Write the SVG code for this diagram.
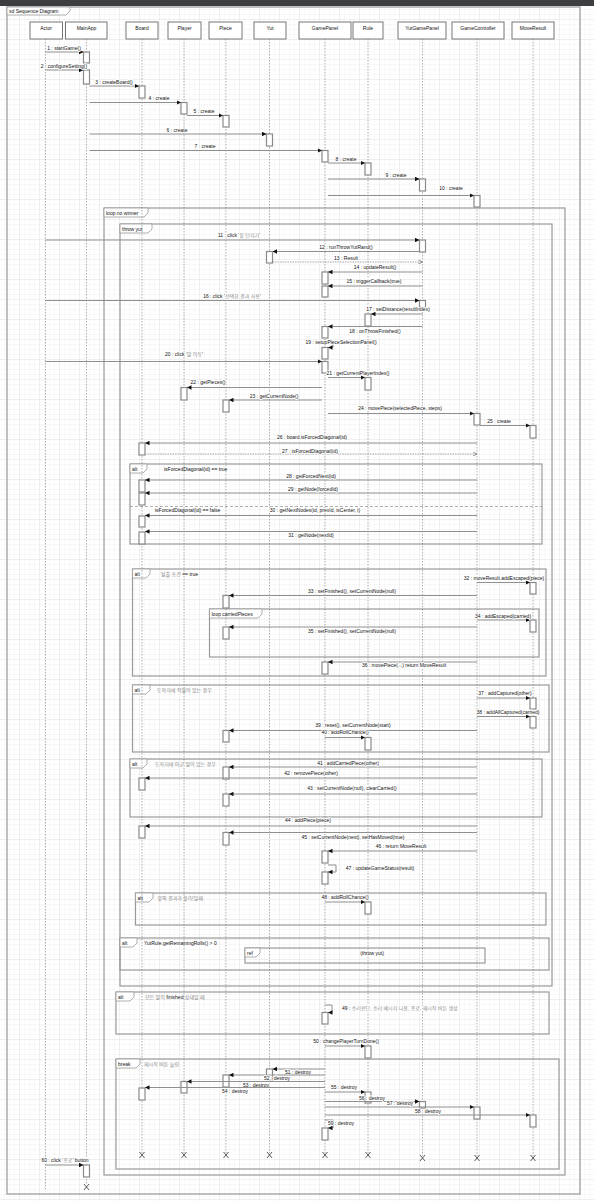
<svg xmlns="http://www.w3.org/2000/svg" width="594" height="1201" viewBox="0 0 594 1201">
<defs>
<pattern id="gm" width="5" height="5" patternUnits="userSpaceOnUse"><path d="M5,0V5M0,5H5" stroke="#e9e9e9" stroke-width="0.5" fill="none"/></pattern>
<pattern id="gM" width="20" height="20" patternUnits="userSpaceOnUse"><rect width="20" height="20" fill="url(#gm)"/><path d="M20,0V20M0,20H20" stroke="#dcdcdc" stroke-width="0.6" fill="none"/></pattern>
<marker id="ah" viewBox="0 0 10 10" refX="10" refY="5" markerWidth="4.5" markerHeight="4.5" markerUnits="userSpaceOnUse" orient="auto"><path d="M0,0L10,5L0,10z" fill="#111"/></marker>
<marker id="ao" viewBox="0 0 10 10" refX="10" refY="5" markerWidth="4.5" markerHeight="4.5" markerUnits="userSpaceOnUse" orient="auto"><path d="M0,0L10,5L0,10" fill="none" stroke="#666" stroke-width="1.5"/></marker>
<style>
text{font-family:"Liberation Sans","Noto Sans CJK KR",sans-serif;font-size:5px;fill:#111}
.hd{fill:#fff;stroke:#777;stroke-width:1}
.ll{stroke:#777;stroke-width:0.6;stroke-dasharray:1.5 1.5;fill:none}
.act{fill:#fff;stroke:#8a8a8a;stroke-width:1.2}
.m{stroke:#8f8f8f;stroke-width:1;fill:none;marker-end:url(#ah)}
.r{stroke:#8f8f8f;stroke-width:0.8;stroke-dasharray:1.5 1;fill:none;marker-end:url(#ao)}
.fr{fill:none;stroke:#9a9a9a;stroke-width:1.2}
.tab{fill:#fff;stroke:#9a9a9a;stroke-width:0.8}
.lb{text-anchor:middle;paint-order:stroke;stroke:#fff;stroke-width:1.6;stroke-linejoin:round}
.ls{paint-order:stroke;stroke:#fff;stroke-width:1.6;stroke-linejoin:round}
.k{fill:#888}
.x{stroke:#333;stroke-width:0.8}
.c{text-anchor:middle}
</style>
</defs>
<rect width="594" height="1201" fill="#fff"/>
<rect width="594" height="1201" fill="url(#gM)"/>
<rect x="0" y="0" width="594" height="6" fill="#3b3f42"/>

<g id="frame">
<rect x="7" y="7" width="573" height="1187" fill="none" stroke="#aaa" stroke-width="1.5"/>
<path d="M7,7H70V11L66,15H7z" class="tab"/>
<text x="9" y="13">sd Sequence Diagram</text>
</g>

<g id="frames">
<rect class="fr" x="104" y="208" width="461" height="967"/>
<path class="tab" d="M104,208H148V213L144,217H104z"/><text x="106" y="214.5">loop no winner</text>
<rect class="fr" x="120" y="224" width="432" height="762"/>
<path class="tab" d="M120,224H152V229L148,233H120z"/><text x="122" y="230.5">throw yut</text>

<rect class="fr" x="130" y="464" width="412" height="80"/>
<path class="tab" d="M130,464H147V469L143,473H130z"/><text x="132" y="470.5">alt</text>
<text x="164" y="470.5">isForcedDiagonal(id) == true</text>
<line x1="130" y1="506.5" x2="542" y2="506.5" stroke="#9a9a9a" stroke-width="0.8" stroke-dasharray="3 2"/>
<text x="155" y="512">isForcedDiagonal(id) == false</text>

<rect class="fr" x="132.5" y="569" width="413.5" height="107"/>
<path class="tab" d="M132.5,569H150V574L146,578H132.5z"/><text x="134.5" y="575.5">alt</text>
<text x="161" y="575.5"><tspan class="k">탈출 조건</tspan> == true</text>

<rect class="fr" x="209.5" y="609" width="329.5" height="48"/>
<path class="tab" d="M209.5,609H262V614L258,618H209.5z"/><text x="211.5" y="615.5">loop carriedPieces</text>

<rect class="fr" x="132.5" y="685" width="416.5" height="67"/>
<path class="tab" d="M132.5,685H150V690L146,694H132.5z"/><text x="134.5" y="691.5">alt</text>
<text x="157" y="691.5" class="k">도착지에 적말이 있는 경우</text>

<rect class="fr" x="130" y="759" width="412" height="58"/>
<path class="tab" d="M130,759H147V764L143,768H130z"/><text x="132" y="765.5">alt</text>
<text x="155" y="765.5" class="k">도착지에 아군 말이 있는 경우</text>

<rect class="fr" x="135.5" y="893" width="410.5" height="32"/>
<path class="tab" d="M135.5,893H153V898L149,902H135.5z"/><text x="137.5" y="899.5">alt</text>
<text x="157.5" y="899.5" class="k">윷의 결과가 윷/모일때</text>

<rect class="fr" x="120" y="938" width="429" height="32"/>
<path class="tab" d="M120,938H137V943L133,947H120z"/><text x="122" y="944.5">alt</text>
<text x="144" y="944.5">YutRule.getRemainingRolls() &gt; 0</text>

<rect class="fr" x="245" y="948" width="240" height="15" fill="#fff"/>
<path class="tab" d="M245,948H260V953L256,957H245z"/><text x="247" y="954.5">ref</text>
<text x="372" y="954.5" class="c">(throw yut)</text>

<rect class="fr" x="116" y="992" width="433" height="42"/>
<path class="tab" d="M116,992H134V997L130,1001H116z"/><text x="118" y="998.5">alt</text>
<text x="145" y="998.5"><tspan class="k">모든 말이</tspan> finished <tspan class="k">상태일 때</tspan></text>

<rect class="fr" x="116" y="1059" width="443" height="110"/>
<path class="tab" d="M116,1059H140V1064L136,1068H116z"/><text x="118" y="1065.5">break</text>
<text x="144" y="1065.5" class="k">재시작 버튼 눌림</text>
</g>

<g id="node-actor">
<line class="ll" x1="45.5" y1="39" x2="45.5" y2="1189"/>
<rect class="hd" x="30" y="22" width="32.5" height="17"/><text x="46" y="30" class="c">Actor</text>
</g>
<g id="node-mainapp">
<line class="ll" x1="86.5" y1="39" x2="86.5" y2="1185"/>
<rect class="hd" x="65.5" y="22" width="41.5" height="17"/><text x="86.5" y="30" class="c">MainApp</text>
<rect class="act" x="83.5" y="52" width="6" height="11"/>
<rect class="act" x="83.5" y="70" width="6" height="14"/>
<rect class="act" x="83.5" y="1165" width="6" height="12"/>
<path class="x" d="M84,1184L89,1190M89,1184L84,1190"/>
</g>
<g id="node-board">
<line class="ll" x1="142" y1="39" x2="142" y2="1153"/>
<rect class="hd" x="126" y="22" width="32" height="17"/><text x="142" y="30" class="c">Board</text>
<rect class="act" x="139" y="86" width="6" height="12"/>
<rect class="act" x="139" y="443" width="6" height="12"/>
<rect class="act" x="139" y="480" width="6" height="12"/>
<rect class="act" x="139" y="493" width="6" height="12"/>
<rect class="act" x="139" y="516" width="6" height="11"/>
<rect class="act" x="139" y="532" width="6" height="12"/>
<rect class="act" x="139" y="778" width="6" height="12"/>
<rect class="act" x="139" y="826" width="6" height="12"/>
<rect class="act" x="139" y="1088" width="6" height="12"/>
<path class="x" d="M139.5,1152L144.5,1158M144.5,1152L139.5,1158"/>
</g>
<g id="node-player">
<line class="ll" x1="184" y1="39" x2="184" y2="1153"/>
<rect class="hd" x="168" y="22" width="33" height="17"/><text x="184.5" y="30" class="c">Player</text>
<rect class="act" x="181" y="102.5" width="6" height="11.5"/>
<rect class="act" x="181" y="387.5" width="6" height="12.5"/>
<rect class="act" x="181" y="1081.5" width="6" height="11.5"/>
<path class="x" d="M181.5,1152L186.5,1158M186.5,1152L181.5,1158"/>
</g>
<g id="node-piece">
<line class="ll" x1="226" y1="39" x2="226" y2="1153"/>
<rect class="hd" x="209" y="22" width="33" height="17"/><text x="225.5" y="30" class="c">Piece</text>
<rect class="act" x="223" y="115.5" width="6" height="11.5"/>
<rect class="act" x="223" y="400" width="6" height="12"/>
<rect class="act" x="223" y="595.5" width="6" height="12.5"/>
<rect class="act" x="223" y="627" width="6" height="12"/>
<rect class="act" x="223" y="730.5" width="6" height="11.5"/>
<rect class="act" x="223" y="767" width="6" height="12"/>
<rect class="act" x="223" y="794" width="6" height="12"/>
<rect class="act" x="223" y="832.5" width="6" height="12.5"/>
<rect class="act" x="223" y="1075" width="6" height="12"/>
<path class="x" d="M223.5,1152L228.5,1158M228.5,1152L223.5,1158"/>
</g>
<g id="node-yut">
<line class="ll" x1="269.5" y1="39" x2="269.5" y2="1153"/>
<rect class="hd" x="254" y="22" width="32" height="17"/><text x="270" y="30" class="c">Yut</text>
<rect class="act" x="266.5" y="134" width="6" height="12"/>
<rect class="act" x="266.5" y="251.5" width="6" height="11.5"/>
<rect class="act" x="266.5" y="1069" width="6" height="11"/>
<path class="x" d="M267,1152L272,1158M272,1152L267,1158"/>
</g>
<g id="node-gamepanel">
<line class="ll" x1="325" y1="39" x2="325" y2="1153"/>
<rect class="hd" x="299" y="22" width="52" height="17"/><text x="325" y="30" class="c">GamePanel</text>
<rect class="act" x="322" y="150.5" width="6" height="11.5"/>
<rect class="act" x="322" y="272" width="6" height="12"/>
<rect class="act" x="322" y="286" width="6" height="11"/>
<rect class="act" x="322" y="326.5" width="6" height="11.5"/>
<rect class="act" x="322" y="347.5" width="6" height="11.5"/>
<rect class="act" x="322" y="361.5" width="6" height="11.5"/>
<rect class="act" x="322" y="662" width="6" height="12"/>
<rect class="act" x="322" y="851" width="6" height="12"/>
<rect class="act" x="322" y="872" width="6" height="12"/>
<rect class="act" x="322" y="1012.5" width="6" height="11.5"/>
<rect class="act" x="322" y="1128" width="6" height="12"/>
<path class="x" d="M322.5,1152L327.5,1158M327.5,1152L322.5,1158"/>
</g>
<g id="node-rule">
<line class="ll" x1="368" y1="39" x2="368" y2="1153"/>
<rect class="hd" x="353" y="22" width="30" height="17"/><text x="368" y="30" class="c">Rule</text>
<rect class="act" x="365" y="163" width="6" height="12"/>
<rect class="act" x="365" y="314" width="6" height="12"/>
<rect class="act" x="365" y="377.5" width="6" height="12.5"/>
<rect class="act" x="365" y="737.5" width="6" height="12.5"/>
<rect class="act" x="365" y="902" width="6" height="12"/>
<rect class="act" x="365" y="1046" width="6" height="12"/>
<rect class="act" x="365" y="1092" width="6" height="11"/>
<path class="x" d="M365.5,1152L370.5,1158M370.5,1152L365.5,1158"/>
</g>
<g id="node-yutgamepanel">
<line class="ll" x1="422.5" y1="39" x2="422.5" y2="1156"/>
<rect class="hd" x="398" y="22" width="48" height="17"/><text x="422" y="30" class="c">YutGamePanel</text>
<rect class="act" x="419.5" y="179" width="6" height="12"/>
<rect class="act" x="419.5" y="240" width="6" height="12"/>
<rect class="act" x="419.5" y="300.5" width="6" height="7"/>
<rect class="act" x="419.5" y="1101.5" width="6" height="6.5"/>
<path class="x" d="M420,1155L425,1161M425,1155L420,1161"/>
</g>
<g id="node-gamecontroller">
<line class="ll" x1="477" y1="39" x2="477" y2="1156"/>
<rect class="hd" x="452" y="22" width="52" height="17"/><text x="478" y="30" class="c">GameController</text>
<rect class="act" x="474" y="195.5" width="6" height="11.5"/>
<rect class="act" x="474" y="413.5" width="6" height="11.5"/>
<rect class="act" x="474" y="1107" width="6" height="12"/>
<path class="x" d="M474.5,1155L479.5,1161M479.5,1155L474.5,1161"/>
</g>
<g id="node-moveresult">
<line class="ll" x1="533" y1="39" x2="533" y2="1156"/>
<rect class="hd" x="512" y="22" width="42" height="17"/><text x="533" y="30" class="c">MoveResult</text>
<rect class="act" x="530" y="425.5" width="6" height="12.5"/>
<rect class="act" x="530" y="582.5" width="6" height="11.5"/>
<rect class="act" x="530" y="620" width="6" height="12"/>
<rect class="act" x="530" y="698" width="6" height="11"/>
<rect class="act" x="530" y="716.5" width="6" height="11.5"/>
<rect class="act" x="530" y="1115" width="6" height="12"/>
<path class="x" d="M530.5,1155L535.5,1161M535.5,1155L530.5,1161"/>
</g>

<g id="connectors">
<line class="m" x1="45.5" y1="52" x2="83.5" y2="52"/><text class="lb" x="64" y="49.5">1 : startGame()</text>
<line class="m" x1="45.5" y1="70" x2="83.5" y2="70"/><text class="lb" x="64" y="67.5">2 : configureSetting()</text>
<line class="m" x1="89.5" y1="86" x2="139" y2="86"/><text class="lb" x="114" y="83.5">3 : createBoard()</text>
<line class="m" x1="89.5" y1="102.5" x2="181" y2="102.5"/><text class="lb" x="159" y="100">4 : create</text>
<line class="m" x1="187" y1="115.5" x2="223" y2="115.5"/><text class="lb" x="204" y="113">5 : create</text>
<line class="m" x1="89.5" y1="134" x2="266.5" y2="134"/><text class="lb" x="177" y="131.5">6 : create</text>
<line class="m" x1="89.5" y1="150.5" x2="322" y2="150.5"/><text class="lb" x="205" y="148">7 : create</text>
<line class="m" x1="328" y1="163" x2="365" y2="163"/><text class="lb" x="346" y="160.5">8 : create</text>
<line class="m" x1="328" y1="179" x2="419.5" y2="179"/><text class="lb" x="396" y="176.5">9 : create</text>
<line class="m" x1="328" y1="195.5" x2="474" y2="195.5"/><text class="lb" x="451" y="190">10 : create</text>

<line class="m" x1="45.5" y1="240" x2="419.5" y2="240"/><text class="lb" x="239" y="237">11 : click '<tspan class="k">윷 던지기</tspan>'</text>
<line class="m" x1="419.5" y1="251.5" x2="272.5" y2="251.5"/><text class="lb" x="346" y="249">12 : runThrowYutRand()</text>
<line class="r" x1="272.5" y1="262" x2="422.5" y2="262"/><text class="lb" x="346" y="259.5">13 : Result</text>
<line class="m" x1="422.5" y1="272" x2="328" y2="272"/><text class="lb" x="375" y="269">14 : updateResult()</text>
<line class="m" x1="422.5" y1="286" x2="328" y2="286"/><text class="lb" x="374" y="282.5">15 : triggerCallback(true)</text>
<line class="m" x1="45.5" y1="300.5" x2="419.5" y2="300.5"/><text class="lb" x="232" y="298">16 : click '<tspan class="k">선택한 결과 사용</tspan>'</text>
<line class="m" x1="422.5" y1="314" x2="371" y2="314"/><text class="lb" x="398" y="311">17 : setDistance(resultIndex)</text>
<line class="m" x1="422.5" y1="326.5" x2="328" y2="326.5"/><text class="lb" x="375" y="332.5">18 : onThrowFinished()</text>
<path class="m" d="M328,341H333V347.5H328"/><text class="lb" x="341" y="344">19 : setupPieceSelectionPanel()</text>
<line class="m" x1="45.5" y1="361.5" x2="322" y2="361.5"/><text class="lb" x="184" y="356">20 : click '<tspan class="k">말 이동</tspan>'</text>
<line class="m" x1="328" y1="377.5" x2="365" y2="377.5"/><text class="lb" x="358" y="375">21 : getCurrentPlayerIndex()</text>
<line class="m" x1="322" y1="387.5" x2="187" y2="387.5"/><text class="lb" x="208" y="384">22 : getPieces()</text>
<line class="m" x1="322" y1="400" x2="229" y2="400"/><text class="lb" x="274" y="397.5">23 : getCurrentNode()</text>
<line class="m" x1="328" y1="413.5" x2="474" y2="413.5"/><text class="lb" x="400" y="410">24 : movePiece(selectedPiece, steps)</text>
<line class="m" x1="480" y1="425.5" x2="530" y2="425.5"/><text class="lb" x="499" y="422.5">25 : create</text>
<line class="m" x1="477" y1="443" x2="145" y2="443"/><text class="lb" x="312" y="439">26 : board.isForcedDiagonal(id)</text>
<line class="r" x1="145" y1="454" x2="477" y2="454"/><text class="lb" x="310" y="452.5">27 : isForcedDiagonal(id)</text>
<line class="m" x1="477" y1="480" x2="145" y2="480"/><text class="lb" x="311" y="477.5">28 : getForcedNext(id)</text>
<line class="m" x1="477" y1="493" x2="145" y2="493"/><text class="lb" x="313" y="490.5">29 : getNode(forcedId)</text>
<line class="m" x1="477" y1="515.5" x2="145" y2="515.5"/><text class="lb" x="315" y="511.5">30 : getNextNodes(id, prevId, isCenter, i)</text>
<line class="m" x1="477" y1="531.5" x2="145" y2="531.5"/><text class="lb" x="311" y="537">31 : getNode(nextId)</text>
<line class="m" x1="477" y1="582.5" x2="530" y2="582.5"/><text class="lb" x="504" y="579.5">32 : moveResult.addEscaped(piece)</text>
<line class="m" x1="477" y1="595.5" x2="229" y2="595.5"/><text class="lb" x="352" y="592.5">33 : setFinished(), setCurrentNode(null)</text>
<line class="m" x1="477" y1="620" x2="530" y2="620"/><text class="lb" x="503" y="617.5">34 : addEscaped(carried)</text>
<line class="m" x1="477" y1="627" x2="229" y2="627"/><text class="lb" x="352" y="632.5">35 : setFinished(), setCurrentNode(null)</text>
<line class="m" x1="477" y1="662" x2="328" y2="662"/><text class="lb" x="404" y="667">36 : movePiece(...) return MoveResult</text>
<line class="m" x1="477" y1="698" x2="530" y2="698"/><text class="lb" x="505" y="694.5">37 : addCaptured(other)</text>
<line class="m" x1="477" y1="716.5" x2="530" y2="716.5"/><text class="lb" x="508" y="713.5">38 : addAllCaptured(carried)</text>
<line class="m" x1="477" y1="730.5" x2="229" y2="730.5"/><text class="lb" x="353" y="727">39 : reset(), setCurrentNode(start)</text>
<line class="m" x1="325" y1="737.5" x2="365" y2="737.5"/><text class="lb" x="345" y="733.5">40 : addRollChance()</text>
<line class="m" x1="477" y1="767" x2="229" y2="767"/><text class="lb" x="348" y="764.5">41 : addCarriedPiece(other)</text>
<line class="m" x1="477" y1="778" x2="145" y2="778"/><text class="lb" x="311" y="775">42 : removePiece(other)</text>
<line class="m" x1="477" y1="794" x2="229" y2="794"/><text class="lb" x="352" y="790">43 : setCurrentNode(null), clearCarried()</text>
<line class="m" x1="477" y1="826" x2="145" y2="826"/><text class="lb" x="308" y="822">44 : addPiece(piece)</text>
<line class="m" x1="477" y1="832.5" x2="229" y2="832.5"/><text class="lb" x="353" y="838.5">45 : setCurrentNode(next), setHasMoved(true)</text>
<line class="m" x1="477" y1="851" x2="328" y2="851"/><text class="lb" x="401" y="848">46 : return MoveResult</text>
<path class="m" d="M328,865H336V872H328"/><text class="lb" x="380" y="869.5">47 : updateGameStatus(result)</text>
<line class="m" x1="325" y1="902" x2="365" y2="902"/><text class="lb" x="345" y="898.5">48 : addRollChance()</text>
<path class="m" d="M325,1005H332V1012.5H328"/><text class="ls" x="342" y="1010">49 : <tspan class="k">승리판단, 승리 메시지 나옴, 종료, 재시작 버튼 생성</tspan></text>
<line class="m" x1="325" y1="1046" x2="365" y2="1046"/><text class="lb" x="346" y="1042.5">50 : changePlayerTurnDone()</text>
<line class="m" x1="325" y1="1069" x2="272.5" y2="1069"/><text class="lb" x="298" y="1074">51 : destroy</text>
<line class="m" x1="325" y1="1075" x2="229" y2="1075"/><text class="lb" x="277" y="1080">52 : destroy</text>
<line class="m" x1="325" y1="1081.5" x2="187" y2="1081.5"/><text class="lb" x="256" y="1086.5">53 : destroy</text>
<line class="m" x1="325" y1="1087.5" x2="145" y2="1087.5"/><text class="lb" x="235" y="1093">54 : destroy</text>
<line class="m" x1="325" y1="1092" x2="365" y2="1092"/><text class="lb" x="344" y="1089">55 : destroy</text>
<line class="m" x1="325" y1="1101.5" x2="419.5" y2="1101.5"/><text class="lb" x="372" y="1099.5">56 : destroy</text>
<line class="m" x1="325" y1="1107" x2="474" y2="1107"/><text class="lb" x="400" y="1104.5">57 : destroy</text>
<line class="m" x1="325" y1="1115" x2="530" y2="1115"/><text class="lb" x="428" y="1112.5">58 : destroy</text>
<path class="m" d="M325,1120H333V1128H328"/><text class="lb" x="341" y="1125">59 : destroy</text>
<line class="m" x1="45.5" y1="1165" x2="83.5" y2="1165"/><text class="lb" x="65" y="1162">60 : click '<tspan class="k">종료</tspan>' button</text>
</g>
</svg>
